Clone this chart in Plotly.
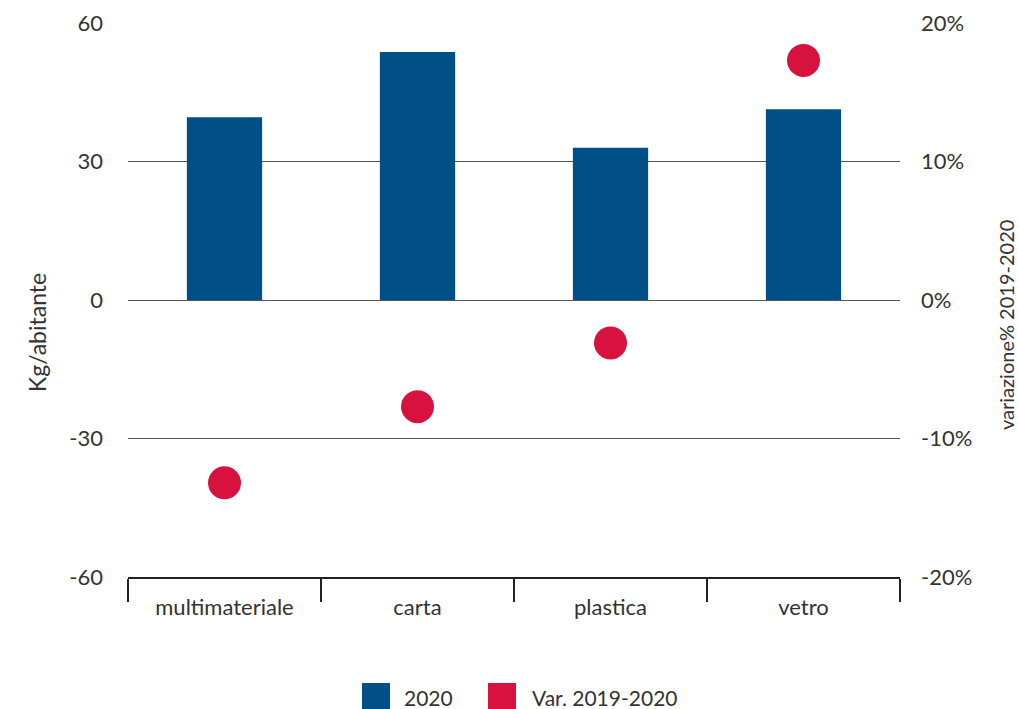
import plotly.graph_objects as go

categories = ["multimateriale", "carta", "plastica", "vetro"]
kg_2020 = [39.6, 53.7, 33.0, 41.3]
var_pct = [-13.2, -7.7, -3.1, 17.3]
left_ticks = [-60, -30, 0, 30, 60]
left_tick_text = ["-60", "-30", "0", "30", "60"]
right_ticks = [-20, -10, 0, 10, 20]
right_tick_text = ["-20%", "-10%", "0%", "10%", "20%"]
series_names = ["2020", "Var. 2019-2020"]

BLUE = "#005087"
RED = "#D7123F"
TXT = "#333333"
FONT = "Lato"
FS = 22

fig = go.Figure()
fig.add_trace(go.Bar(x=categories, y=kg_2020, name=series_names[0],
                     marker=dict(color=BLUE, line=dict(width=0)), width=0.39,
                     yaxis="y", showlegend=False))
fig.add_trace(go.Scatter(x=categories, y=var_pct, name=series_names[1], mode="markers",
                         marker=dict(color=RED, size=33, line=dict(width=0)),
                         yaxis="y2", showlegend=False))

L, R, T, B = 128, 118, 23, 132
W, H = 1018, 709
pw, ph = W - L - R, H - T - B

def px(xp):
    return (xp - L) / pw

def py(yp):
    return (H - B - yp) / ph

shapes = []
annotations = []
legend_items = [(362, 402, BLUE, series_names[0]), (488, 530, RED, series_names[1])]
for sx, tx, col, name in legend_items:
    shapes.append(dict(type="rect", xref="paper", yref="paper",
                       x0=px(sx), x1=px(sx + 28), y0=py(683), y1=py(711),
                       fillcolor=col, line=dict(width=0)))
    annotations.append(dict(text=name, xref="paper", yref="paper", x=px(tx), y=py(697),
                            xanchor="left", yanchor="middle", showarrow=False,
                            font=dict(family=FONT, size=21, color=TXT)))

annotations.append(dict(text="Kg/abitante", xref="paper", yref="paper",
                        x=px(37), y=py(333), textangle=-90, showarrow=False,
                        xanchor="center", yanchor="middle",
                        font=dict(family=FONT, size=23, color=TXT)))
annotations.append(dict(text="variazione% 2019-2020", xref="paper", yref="paper",
                        x=px(1006), y=py(325), textangle=-90, showarrow=False,
                        xanchor="center", yanchor="middle",
                        font=dict(family=FONT, size=20, color=TXT)))

fig.update_layout(
    width=W, height=H,
    margin=dict(l=L, r=R, t=T, b=B, pad=0, autoexpand=False),
    paper_bgcolor="white", plot_bgcolor="white",
    font=dict(family=FONT, size=FS, color=TXT),
    showlegend=False,
    barmode="overlay",
    xaxis=dict(type="category", range=[-0.5, 3.5], tickson="boundaries",
               ticks="outside", ticklen=23, tickwidth=2, tickcolor="#222222",
               showline=True, linecolor="#222222", linewidth=2,
               showgrid=False, zeroline=False, ticklabelstandoff=10,
               automargin=False,
               tickfont=dict(family=FONT, size=FS, color=TXT)),
    yaxis=dict(range=[-60, 60], tickvals=left_ticks, ticktext=left_tick_text,
               showgrid=True, gridcolor="#555555", gridwidth=1, zeroline=False,
               showline=False, ticks="", ticklabelstandoff=24, automargin=False,
               tickfont=dict(family=FONT, size=FS, color=TXT)),
    yaxis2=dict(range=[-20, 20], tickvals=right_ticks, ticktext=right_tick_text,
                overlaying="y", side="right", showgrid=False, zeroline=False,
                showline=False, ticks="", ticklabelstandoff=20, automargin=False,
                tickfont=dict(family=FONT, size=FS, color=TXT)),
    shapes=shapes,
    annotations=annotations,
)

fig.write_html("out.html")
